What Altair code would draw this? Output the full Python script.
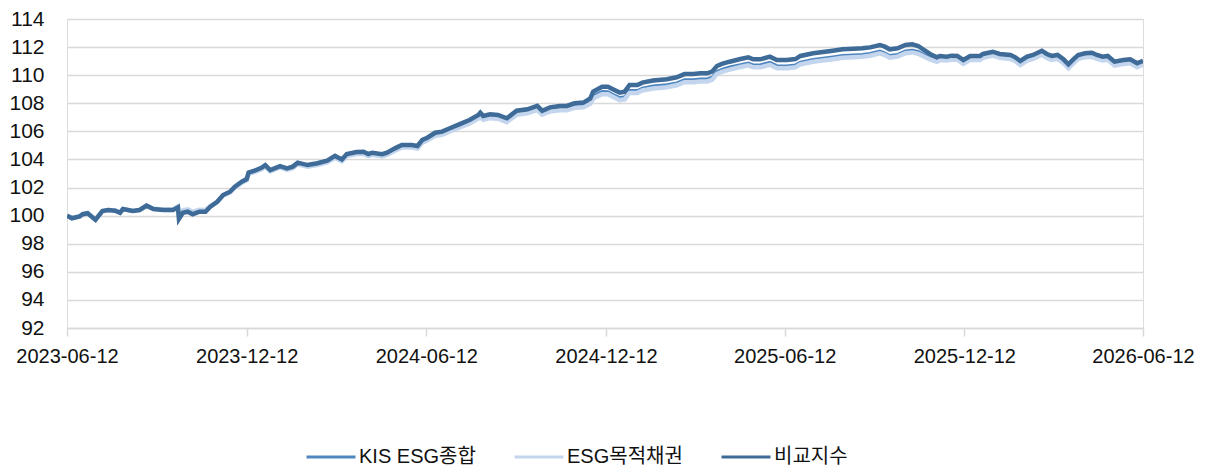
import altair as alt
import pandas as pd

dates = [
    "2023-06-12", "2023-06-17", "2023-06-25", "2023-06-28", "2023-07-03", "2023-07-11", "2023-07-18", "2023-07-24",
    "2023-07-31", "2023-08-05", "2023-08-08", "2023-08-18", "2023-08-25", "2023-09-01", "2023-09-08", "2023-09-18",
    "2023-09-28", "2023-10-03", "2023-10-04", "2023-10-08", "2023-10-13", "2023-10-18", "2023-10-25", "2023-10-31",
    "2023-11-05", "2023-11-12", "2023-11-18", "2023-11-25", "2023-11-30", "2023-12-07", "2023-12-12", "2023-12-14",
    "2023-12-20", "2023-12-27", "2023-12-31", "2024-01-05", "2024-01-15", "2024-01-22", "2024-01-28", "2024-02-02",
    "2024-02-12", "2024-02-22", "2024-03-03", "2024-03-11", "2024-03-18", "2024-03-23", "2024-04-02", "2024-04-09",
    "2024-04-14", "2024-04-18", "2024-04-28", "2024-05-03", "2024-05-11", "2024-05-18", "2024-05-28", "2024-06-03",
    "2024-06-08", "2024-06-13", "2024-06-21", "2024-06-28", "2024-07-06", "2024-07-16", "2024-07-26", "2024-08-04",
    "2024-08-06", "2024-08-09", "2024-08-16", "2024-08-24", "2024-09-02", "2024-09-12", "2024-09-23", "2024-10-03",
    "2024-10-08", "2024-10-16", "2024-10-26", "2024-11-02", "2024-11-10", "2024-11-19", "2024-11-26", "2024-11-29",
    "2024-12-08", "2024-12-14", "2024-12-19", "2024-12-26", "2024-12-31", "2025-01-05", "2025-01-13", "2025-01-18",
    "2025-01-29", "2025-02-12", "2025-02-22", "2025-03-02", "2025-03-11", "2025-03-18", "2025-03-25", "2025-03-30",
    "2025-04-04", "2025-04-09", "2025-04-17", "2025-04-28", "2025-05-06", "2025-05-11", "2025-05-18", "2025-05-28",
    "2025-06-04", "2025-06-14", "2025-06-23", "2025-06-28", "2025-07-11", "2025-07-21", "2025-07-31", "2025-08-10",
    "2025-08-21", "2025-08-30", "2025-09-07", "2025-09-17", "2025-09-22", "2025-09-27", "2025-10-05", "2025-10-13",
    "2025-10-20", "2025-10-26", "2025-10-31", "2025-11-07", "2025-11-14", "2025-11-17", "2025-11-24", "2025-11-29",
    "2025-12-05", "2025-12-11", "2025-12-18", "2025-12-28", "2025-12-31", "2026-01-10", "2026-01-17", "2026-01-28",
    "2026-02-02", "2026-02-07", "2026-02-14", "2026-02-20", "2026-03-01", "2026-03-06", "2026-03-11", "2026-03-17",
    "2026-03-23", "2026-03-28", "2026-04-02", "2026-04-07", "2026-04-14", "2026-04-21", "2026-04-26", "2026-05-02",
    "2026-05-07", "2026-05-14", "2026-05-23", "2026-05-30", "2026-06-06", "2026-06-12",
]

# 비교지수 (benchmark)
bench = [
    100.00, 99.81, 99.95, 100.10, 100.17, 99.70, 100.33, 100.40,
    100.35, 100.20, 100.47, 100.33, 100.40, 100.71, 100.47, 100.40,
    100.40, 100.59, 99.76, 100.20, 100.28, 100.10, 100.28, 100.28,
    100.64, 100.99, 101.47, 101.70, 102.06, 102.42, 102.60, 103.07,
    103.20, 103.40, 103.60, 103.25, 103.53, 103.37, 103.49, 103.77,
    103.60, 103.73, 103.91, 104.25, 104.00, 104.39, 104.53, 104.55,
    104.39, 104.48, 104.37, 104.48, 104.79, 105.03, 105.03, 104.96,
    105.39, 105.55, 105.90, 105.98, 106.22, 106.52, 106.81, 107.17,
    107.33, 107.09, 107.21, 107.17, 106.93, 107.47, 107.57, 107.81,
    107.47, 107.71, 107.81, 107.81, 108.00, 108.05, 108.35, 108.83,
    109.18, 109.18, 109.00, 108.76, 108.83, 109.30, 109.30, 109.47,
    109.62, 109.71, 109.85, 110.08, 110.08, 110.13, 110.13, 110.25,
    110.65, 110.80, 110.96, 111.15, 111.27, 111.13, 111.13, 111.32,
    111.08, 111.08, 111.15, 111.37, 111.56, 111.65, 111.74, 111.84,
    111.88, 111.91, 111.98, 112.15, 112.03, 111.84, 111.91, 112.15,
    112.20, 112.08, 111.84, 111.51, 111.27, 111.37, 111.32, 111.39,
    111.37, 111.08, 111.37, 111.37, 111.51, 111.67, 111.51, 111.44,
    111.27, 111.01, 111.32, 111.44, 111.74, 111.51, 111.37, 111.44,
    111.13, 110.77, 111.13, 111.44, 111.56, 111.60, 111.44, 111.32,
    111.37, 110.96, 111.08, 111.13, 110.85, 111.03,
]

# KIS ESG종합
kis = [
    100.00, 99.82, 99.95, 100.10, 100.16, 99.72, 100.32, 100.39,
    100.34, 100.21, 100.46, 100.33, 100.40, 100.70, 100.48, 100.42,
    100.43, 100.62, 99.90, 100.30, 100.36, 100.20, 100.35, 100.34,
    100.66, 100.98, 101.45, 101.67, 102.03, 102.39, 102.56, 103.02,
    103.15, 103.35, 103.54, 103.20, 103.48, 103.32, 103.44, 103.72,
    103.55, 103.67, 103.85, 104.19, 103.94, 104.32, 104.46, 104.48,
    104.32, 104.41, 104.30, 104.40, 104.71, 104.94, 104.94, 104.87,
    105.29, 105.45, 105.79, 105.87, 106.11, 106.40, 106.69, 107.04,
    107.14, 106.96, 107.08, 107.03, 106.79, 107.33, 107.43, 107.66,
    107.32, 107.56, 107.66, 107.65, 107.84, 107.88, 108.14, 108.55,
    108.85, 108.84, 108.66, 108.42, 108.48, 108.92, 108.92, 109.09,
    109.24, 109.33, 109.47, 109.70, 109.70, 109.75, 109.75, 109.87,
    110.28, 110.43, 110.60, 110.77, 110.89, 110.75, 110.75, 110.93,
    110.69, 110.68, 110.75, 110.95, 111.14, 111.23, 111.32, 111.42,
    111.46, 111.49, 111.56, 111.73, 111.61, 111.42, 111.50, 111.74,
    111.80, 111.70, 111.52, 111.28, 111.10, 111.22, 111.19, 111.27,
    111.26, 110.98, 111.27, 111.27, 111.41, 111.57, 111.41, 111.34,
    111.17, 110.91, 111.22, 111.34, 111.64, 111.41, 111.27, 111.34,
    111.03, 110.67, 111.03, 111.34, 111.46, 111.50, 111.34, 111.22,
    111.27, 110.86, 110.98, 111.03, 110.75, 110.93,
]

# ESG목적채권
esg = [
    100.00, 99.83, 99.96, 100.10, 100.17, 99.74, 100.33, 100.40,
    100.36, 100.22, 100.47, 100.34, 100.41, 100.70, 100.49, 100.44,
    100.46, 100.66, 100.00, 100.38, 100.45, 100.28, 100.42, 100.40,
    100.68, 100.97, 101.43, 101.64, 101.99, 102.35, 102.51, 102.97,
    103.10, 103.30, 103.49, 103.15, 103.43, 103.26, 103.38, 103.66,
    103.49, 103.61, 103.79, 104.12, 103.87, 104.25, 104.39, 104.40,
    104.24, 104.33, 104.22, 104.32, 104.62, 104.86, 104.85, 104.78,
    105.20, 105.35, 105.69, 105.76, 105.99, 106.28, 106.56, 106.91,
    107.00, 106.83, 106.94, 106.90, 106.66, 107.19, 107.29, 107.52,
    107.19, 107.42, 107.51, 107.50, 107.68, 107.72, 107.97, 108.35,
    108.65, 108.64, 108.46, 108.22, 108.28, 108.74, 108.74, 108.91,
    109.05, 109.14, 109.28, 109.50, 109.50, 109.55, 109.55, 109.67,
    110.08, 110.23, 110.40, 110.58, 110.70, 110.56, 110.56, 110.74,
    110.50, 110.49, 110.56, 110.77, 110.96, 111.05, 111.14, 111.24,
    111.28, 111.31, 111.38, 111.55, 111.43, 111.24, 111.32, 111.56,
    111.62, 111.52, 111.35, 111.12, 110.95, 111.08, 111.05, 111.12,
    111.10, 110.81, 111.10, 111.09, 111.23, 111.39, 111.23, 111.16,
    110.99, 110.73, 111.04, 111.16, 111.46, 111.23, 111.09, 111.16,
    110.85, 110.49, 110.85, 111.16, 111.28, 111.32, 111.16, 111.04,
    111.09, 110.68, 110.80, 110.85, 110.57, 110.75,
]

series_names = ["KIS ESG종합", "ESG목적채권", "비교지수"]
series_colors = ["#4f86c0", "#c3d6ee", "#3e6b97"]
series_widths = [2.5, 4.5, 4.5]
y_ticks = list(range(92, 115, 2))
x_tick_dates = [(2023, 6, 12), (2023, 12, 12), (2024, 6, 12), (2024, 12, 12),
                (2025, 6, 12), (2025, 12, 12), (2026, 6, 12)]

frames = []
for name, vals in zip(series_names, [kis, esg, bench]):
    frames.append(pd.DataFrame({"date": dates, "value": vals, "series": name}))
df = pd.concat(frames, ignore_index=True)

FONT = "Liberation Sans"
KFONT = "Liberation Sans, Noto Sans CJK KR"

x_enc = alt.X(
    "date:T",
    scale=alt.Scale(
        type="utc",
        domain=[alt.DateTime(year=2023, month=6, date=12, utc=True),
                alt.DateTime(year=2026, month=6, date=12, utc=True)],
    ),
    axis=alt.Axis(
        values=[alt.DateTime(year=y, month=m, date=d, utc=True) for (y, m, d) in x_tick_dates],
        labelExpr="utcFormat(datum.value, '%Y-%m-%d')",
        title=None,
        grid=False,
        domain=True,
        domainColor="#d9d9d9",
        domainWidth=1.5,
        ticks=True,
        tickColor="#d9d9d9",
        tickWidth=1.5,
        tickSize=8,
        labelFlush=False,
        labelOverlap=False,
        labelPadding=10,
        labelFont=FONT,
        labelFontSize=20,
        labelColor="#111111",
    ),
)

y_enc = alt.Y(
    "value:Q",
    scale=alt.Scale(domain=[92, 114], nice=False, zero=False),
    axis=alt.Axis(
        values=y_ticks,
        title=None,
        grid=True,
        gridColor="#d9d9d9",
        gridWidth=1.5,
        domain=False,
        ticks=False,
        labelPadding=23,
        labelFont=FONT,
        labelFontSize=21,
        labelColor="#111111",
    ),
)

color_enc = alt.Color(
    "series:N",
    scale=alt.Scale(domain=series_names, range=series_colors),
    legend=alt.Legend(
        title=None,
        orient="none",
        direction="horizontal",
        legendX=238,
        legendY=412,
        symbolType="stroke",
        symbolSize=2400,
        symbolStrokeWidth=3,
        labelFont=KFONT,
        labelFontSize=20,
        labelColor="#111111",
        columnPadding=32,
        labelOffset=2,
    ),
)

layers = []
for name, w in zip(series_names, series_widths):
    layers.append(
        alt.Chart(df)
        .transform_filter(alt.datum.series == name)
        .mark_line(strokeWidth=w, interpolate="linear", clip=True)
        .encode(x=x_enc, y=y_enc, color=color_enc)
    )

chart = (
    alt.layer(*layers)
    .properties(
        width=1076,
        height=309,
        autosize=alt.AutoSizeParams(type="none"),
        padding={"left": 59, "top": 11, "right": 57, "bottom": 139},
    )
    .configure_view(stroke=None)
    .configure(background="white")
)

chart.save("out.html", embed_options={"renderer": "svg", "actions": False})
